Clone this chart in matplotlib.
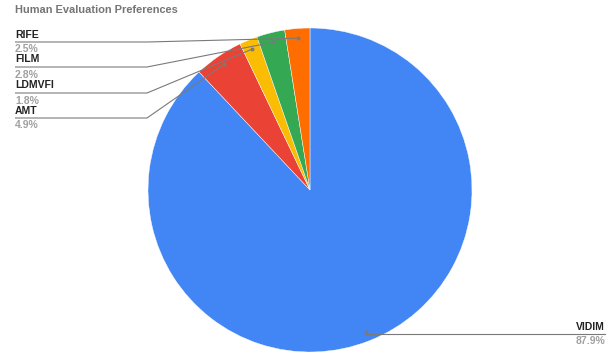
import numpy as np
import matplotlib.pyplot as plt

plt.rcParams['font.family'] = ['Liberation Sans', 'DejaVu Sans']

labels = ["VIDIM", "AMT", "LDMVFI", "FILM", "RIFE"]
shares = [87.9, 4.9, 1.8, 2.8, 2.5]
colors = ["#4285F4", "#EA4335", "#FBBC04", "#34A853", "#FF6D01"]
title = "Human Evaluation Preferences"

W, H = 609, 356
fig = plt.figure(figsize=(W / 100, H / 100), dpi=100)
ax = fig.add_axes([0, 0, 1, 1])

cx, cy, R = 310, H - 190, 162
wedges, _ = ax.pie(shares, colors=colors, startangle=90, counterclock=False,
                   center=(cx, cy), radius=R, frame=True,
                   wedgeprops=dict(edgecolor="white", linewidth=0.3))
ax.set_xlim(0, W)
ax.set_ylim(0, H)
ax.set_aspect("equal")
ax.axis("off")

fig.text(15 / W, 1 - 10 / H, title, fontsize=7.9, fontweight="bold",
         color="#757575", ha="left", va="center")

# left-hand labels, top to bottom: RIFE, FILM, LDMVFI, AMT
left_rows = {"RIFE": 42, "FILM": 67, "LDMVFI": 93, "AMT": 118}
line_col = "#7a7a7a"
for w, name, pct in zip(wedges, labels, shares):
    mid = np.deg2rad((w.theta1 + w.theta2) / 2)
    px = cx + 0.94 * R * np.cos(mid)
    py = cy + 0.94 * R * np.sin(mid)
    if name in left_rows:
        yl = H - left_rows[name]
        ax.plot([15, 147, px], [yl, yl, py], color=line_col, lw=0.8,
                solid_capstyle="butt")
        x_txt, ha = 15, "left"
    else:
        yl = H - 334
        ax.plot([px, 605], [yl, yl], color=line_col, lw=0.8)
        x_txt, ha = 605, "right"
    ax.plot(px, py, "o", ms=1.8, color=line_col)
    ax.text(x_txt, yl + 2.5, name, fontsize=7.5, fontweight="bold",
            color="#222222", ha=ha, va="bottom")
    ax.text(x_txt, yl - 2.5, f"{pct}%", fontsize=7.5, fontweight="bold",
            color="#a0a0a0", ha=ha, va="top")

fig.savefig("out.png", dpi=100)
